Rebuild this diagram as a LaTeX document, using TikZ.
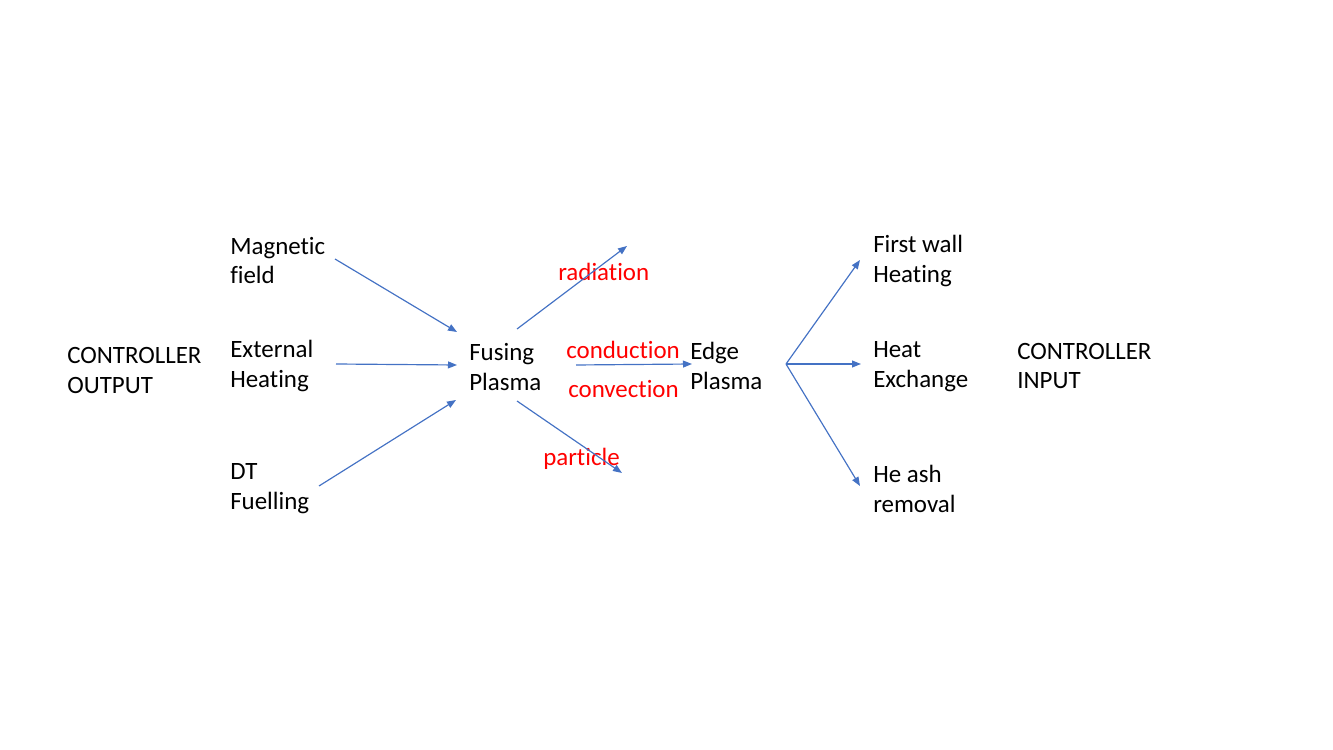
\documentclass[tikz,border=0pt]{standalone}
\usepackage{fontspec}
\setmainfont[Ligatures={NoCommon}]{Carlito}
\usetikzlibrary{arrows.meta}

\begin{document}
\begin{tikzpicture}[x=0.01in,y=-0.01in,
  lbl/.style={anchor=west, align=left, inner sep=0pt, font=\fontsize{18}{21.5}\selectfont},
  red lbl/.style={lbl, text=red},
  flow/.style={draw={rgb,255:red,68;green,114;blue,196}, line width=0.85pt, -{Triangle[length=6.5pt,width=5pt]}}]
\useasboundingbox (0,0) rectangle (1333,750);
% texts
\node[lbl] (ctrlout) at (67,370.5) {CONTROLLER\\OUTPUT};
\node[lbl] (magnet) at (230,260.5) {Magnetic\\field};
\node[lbl] (extheat) at (230,366) {External\\Heating};
\node[lbl] (fuel) at (230,489) {DT\\Fuelling};
\node[lbl] (fusing) at (469,367) {Fusing\\Plasma};
\node[lbl] (edge) at (690,366) {Edge\\Plasma};
\node[lbl] (wall) at (873,261) {First wall\\Heating};
\node[lbl] (exch) at (873,367) {Heat\\Exchange};
\node[lbl] (ash) at (873,489) {He ash\\removal};
\node[lbl] (ctrlin) at (1017,366) {CONTROLLER\\INPUT};
\node[red lbl] (rad) at (558,272) {radiation};
\node[red lbl] (cond) at (566,350) {conduction};
\node[red lbl] (conv) at (568,389) {convection};
\node[red lbl] (part) at (543,459) {particle};
% arrow ends
\coordinate (magA) at (335,259);
\coordinate (extA) at (336,364);
\coordinate (fuelA) at (319,486);
\coordinate (inA) at (457,332);
\coordinate (inB) at (457,365);
\coordinate (inC) at (456,400);
\coordinate (radA) at (517,329);
\coordinate (radB) at (627,246);
\coordinate (condA) at (576,365);
\coordinate (condB) at (692,364);
\coordinate (partA) at (517,401);
\coordinate (partB) at (622,473);
\coordinate (fork) at (786,364);
\coordinate (wallB) at (860,260);
\coordinate (exchB) at (861,364);
\coordinate (ashB) at (860,486);
% arrows
\draw[flow] (magA) -- (inA);
\draw[flow] (extA) -- (inB);
\draw[flow] (fuelA) -- (inC);
\draw[flow] (radA) -- (radB);
\draw[flow] (condA) -- (condB);
\draw[flow] (partA) -- (partB);
\draw[flow] (fork) -- (wallB);
\draw[flow] (fork) -- (exchB);
\draw[flow] (fork) -- (ashB);
\end{tikzpicture}
\end{document}
